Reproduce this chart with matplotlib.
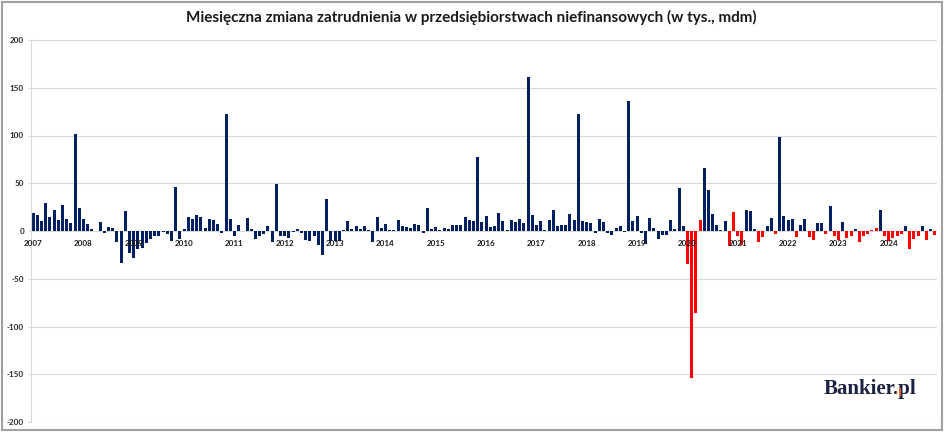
import matplotlib
matplotlib.use("Agg")
import matplotlib.pyplot as plt
from matplotlib.patches import Rectangle
from matplotlib.transforms import Bbox

# ---------------- data ----------------
title = "Miesięczna zmiana zatrudnienia w przedsiębiorstwach niefinansowych (w tys., mdm)"
years = list(range(2007, 2025))
values = [
    # 2007
    19, 17, 10, 29, 15, 22, 11, 27, 13, 8, 102, 24,
    # 2008
    13, 7, 2, 0, 9, -2, 4, 3, -12, -34, 21, -23,
    # 2009
    -28, -19, -18, -13, -8, -5, -5, -1, -3, -10, 46, -8,
    # 2010
    2, 15, 13, 17, 15, 3, 13, 12, 7, -2, 123, 13,
    # 2011
    -5, 6, 0, 14, 2, -8, -5, -3, 5, -12, 49, -5,
    # 2012
    -5, -7, -1, 2, -2, -9, -10, -5, -15, -25, 34, -10,
    # 2013
    -10, -10, 1, 10, 2, 5, 2, 5, 1, -11, 15, 3,
    # 2014
    7, 1, 1, 11, 5, 4, 3, 7, 6, -2, 24, 2,
    # 2015
    4, 1, 3, 2, 6, 6, 6, 15, 11, 10, 77, 9,
    # 2016
    16, 4, 5, 19, 10, 1, 12, 9, 13, 8, 161, 17,
    # 2017
    6, 10, 1, 12, 22, 5, 6, 6, 18, 12, 122, 10,
    # 2018
    9, 8, -2, 13, 9, -2, -4, 3, 5, -1, 136, 10,
    # 2019
    16, -2, -14, 14, 3, -8, -4, -4, 12, 2, 45, 5,
    # 2020
    -35, -154, -86, 12, 66, 43, 18, 6, 1, 10, -16, 20,
    # 2021
    -5, -15, 22, 21, 2, -11, -6, 5, 14, -3, 98, 16,
    # 2022
    11, 13, -6, 6, 13, -6, -9, 8, 8, -3, 26, -5,
    # 2023
    -9, 9, -7, -5, 2, -11, -5, -3, 1, 3, 22, -5,
    # 2024
    -10, -7, -5, -3, 5, -19, -8, -5, 5, -9, 2, -4,
]
# 1 = bar highlighted in red
highlight = [0] * 156 + [
    # 2020
    1, 1, 1, 1, 0, 0, 0, 0, 0, 0, 1, 1,
    # 2021
    1, 1, 0, 0, 0, 1, 1, 0, 0, 1, 0, 0,
    # 2022
    0, 0, 1, 0, 0, 1, 1, 0, 0, 1, 0, 1,
    # 2023
    1, 0, 1, 1, 0, 1, 1, 1, 1, 1, 0, 1,
    # 2024
    1, 1, 1, 1, 0, 1, 1, 1, 0, 1, 0, 1,
]
yticks = [-200, -150, -100, -50, 0, 50, 100, 150, 200]

NAVY = "#002060"
RED = "#FF0000"
GRID = "#D9D9D9"
FONT = "Lato"

W, H = 948, 437
fig = plt.figure(figsize=(W / 100, H / 100), dpi=100)
fig.patch.set_facecolor("white")

def px(x0, y0, x1, y1):
    return [x0 / W, 1 - y1 / H, (x1 - x0) / W, (y1 - y0) / H]

ax = fig.add_axes(px(31, 40, 937, 422))
ax.set_facecolor("white")

xs = list(range(len(values)))
colors = [RED if h else NAVY for h in highlight]
ax.bar(xs, values, width=0.72, color=colors, zorder=2, linewidth=0)

ax.set_xlim(-0.5, len(values) - 0.5)
ax.set_ylim(-200, 200)
ax.set_yticks(yticks)
ax.set_yticklabels([str(v) for v in yticks], fontsize=5.8, fontweight="bold",
                   color="#262626", family=FONT)
ax.tick_params(axis="y", length=2.2, color=GRID, width=0.8, pad=2.8)
ax.set_xticks([])
ax.grid(axis="y", color=GRID, linewidth=0.8, zorder=0)
ax.set_axisbelow(True)
for s in ["top", "right", "bottom"]:
    ax.spines[s].set_visible(False)
ax.spines["left"].set_color(GRID)
ax.spines["left"].set_linewidth(0.8)

for k, yr in enumerate(years):
    ax.annotate(str(yr), xy=(k * 12, 0), xytext=(0, -12), textcoords="offset pixels",
                ha="center", va="center", fontsize=5.8, fontweight="bold",
                color="#1a1a1a", family=FONT, zorder=3)

# title
t = fig.text(471.5 / W, 1 - 17 / H, title, ha="center", va="center",
             fontsize=10, fontweight="bold", family=FONT, color="#1a1a1a")
fig.canvas.draw()
r = fig.canvas.get_renderer()
wpx = t.get_window_extent(r).width
t.set_fontsize(10 * 571 / wpx)

# logo
LOGO = "#1B2140"
ORANGE = "#F05A1E"
base_y = 1 - 394 / H
x0 = 824 / W

def logo_width(fs, s):
    tt = fig.text(x0, base_y, s, ha="left", va="baseline", fontsize=fs,
                  fontweight="bold", family="Liberation Serif")
    fig.canvas.draw()
    bb = tt.get_window_extent(fig.canvas.get_renderer())
    tt.remove()
    return bb

fs = 14
bb = logo_width(fs, "Bankier.pl")
fs = fs * 93 / bb.width
full = fig.text(x0, base_y, "Bankier.pl", ha="left", va="baseline", fontsize=fs,
                fontweight="bold", family="Liberation Serif", color=LOGO)
b1 = logo_width(fs, "Bankier")
b2 = logo_width(fs, "Bankier.")
base_px = base_y * H
fs_px = fs * 100 / 72
dot = fig.text(x0, base_y, "Bankier.pl", ha="left", va="baseline", fontsize=fs,
               fontweight="bold", family="Liberation Serif", color=ORANGE)
dot.set_clip_on(True)
dot.set_clip_box(Bbox([[b1.x1 + 0.2, base_px - 1.5],
                       [b2.x1 + 1.5, base_px + 0.3 * fs_px]]))

# border
fig.add_artist(Rectangle((1.5 / W, 1 - 430 / H), 940 / W, 428.5 / H,
                         transform=fig.transFigure, fill=False,
                         edgecolor="#A0A0A0", linewidth=1.5))

fig.savefig("out.png", dpi=100, facecolor="white")
